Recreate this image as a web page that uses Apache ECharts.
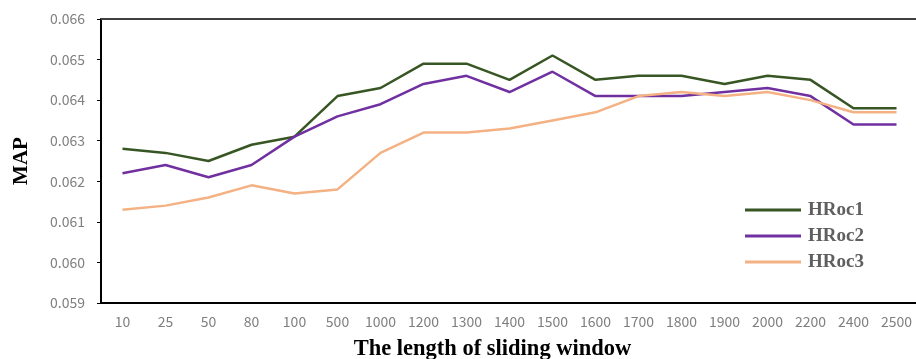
<!DOCTYPE html>
<html>
<head>
<meta charset="utf-8">
<script src="https://cdn.jsdelivr.net/npm/echarts@6/dist/echarts.min.js"></script>
<style>html,body{margin:0;padding:0;background:#fff}#c{width:916px;height:359px}</style>
</head>
<body>
<div id="c"></div>
<script>
const categories = ['10','25','50','80','100','500','1000','1200','1300','1400','1500','1600','1700','1800','1900','2000','2200','2400','2500'];
const hroc1 = [0.0628,0.0627,0.0625,0.0629,0.0631,0.0641,0.0643,0.0649,0.0649,0.0645,0.0651,0.0645,0.0646,0.0646,0.0644,0.0646,0.0645,0.0638,0.0638];
const hroc2 = [0.0622,0.0624,0.0621,0.0624,0.0631,0.0636,0.0639,0.0644,0.0646,0.0642,0.0647,0.0641,0.0641,0.0641,0.0642,0.0643,0.0641,0.0634,0.0634];
const hroc3 = [0.0613,0.0614,0.0616,0.0619,0.0617,0.0618,0.0627,0.0632,0.0632,0.0633,0.0635,0.0637,0.0641,0.0642,0.0641,0.0642,0.0640,0.0637,0.0637];
const seriesNames = ['HRoc1','HRoc2','HRoc3'];
const colors = ['#375623','#7030A0','#F4B183'];

const chart = echarts.init(document.getElementById('c'), null, {renderer:'canvas'});
const labelFont = {color:'#7f7f7f', fontSize:14, fontFamily:'"Noto Sans CJK SC", "Noto Sans", sans-serif'};
chart.setOption({
  animation:false,
  backgroundColor:'#fff',
  grid:{left:101, top:19, width:817, height:284, containLabel:false, outerBoundsMode:'none'},
  legend:{
    orient:'vertical', left:745, top:200, padding:0, itemWidth:56, itemHeight:3, itemGap:6, icon:'rect',
    textStyle:{color:'#5f5f5f', fontSize:19, fontWeight:'bold', fontFamily:'"Liberation Serif", "Times New Roman", serif', lineHeight:20, padding:[0,0,0,2]},
    data:seriesNames
  },
  xAxis:[{
    type:'category', data:categories, boundaryGap:true,
    axisLine:{lineStyle:{color:'#000', width:2}},
    axisTick:{alignWithLabel:true, length:4, lineStyle:{color:'#000'}},
    axisLabel:Object.assign({margin:12, interval:0}, labelFont),
    name:'The length of sliding window', nameLocation:'middle', nameGap:35,
    nameTextStyle:{color:'#000', fontSize:22.5, fontWeight:'bold', fontFamily:'"Liberation Serif", "Times New Roman", serif', padding:[0,34,0,0]}
  },{
    type:'category', data:categories, position:'top', boundaryGap:true,
    axisLine:{lineStyle:{color:'#404040', width:2}},
    axisTick:{show:false}, axisLabel:{show:false}
  }],
  yAxis:{
    type:'value', min:0.059, max:0.066, interval:0.001,
    axisLine:{show:true, lineStyle:{color:'#000', width:2}},
    axisTick:{show:true, length:4, lineStyle:{color:'#000'}},
    splitLine:{show:false},
    axisLabel:Object.assign({margin:16, formatter:v=>v.toFixed(3)}, labelFont),
    name:'MAP', nameLocation:'middle', nameGap:69,
    nameTextStyle:{color:'#000', fontSize:21, fontWeight:'bold', fontFamily:'"Liberation Serif", "Times New Roman", serif'}
  },
  series:[hroc1,hroc2,hroc3].map((d,i)=>({
    name:seriesNames[i], type:'line', data:d, symbol:'none', smooth:false,
    lineStyle:{color:colors[i], width:2.5}, itemStyle:{color:colors[i]}
  }))
});
</script>
</body>
</html>
